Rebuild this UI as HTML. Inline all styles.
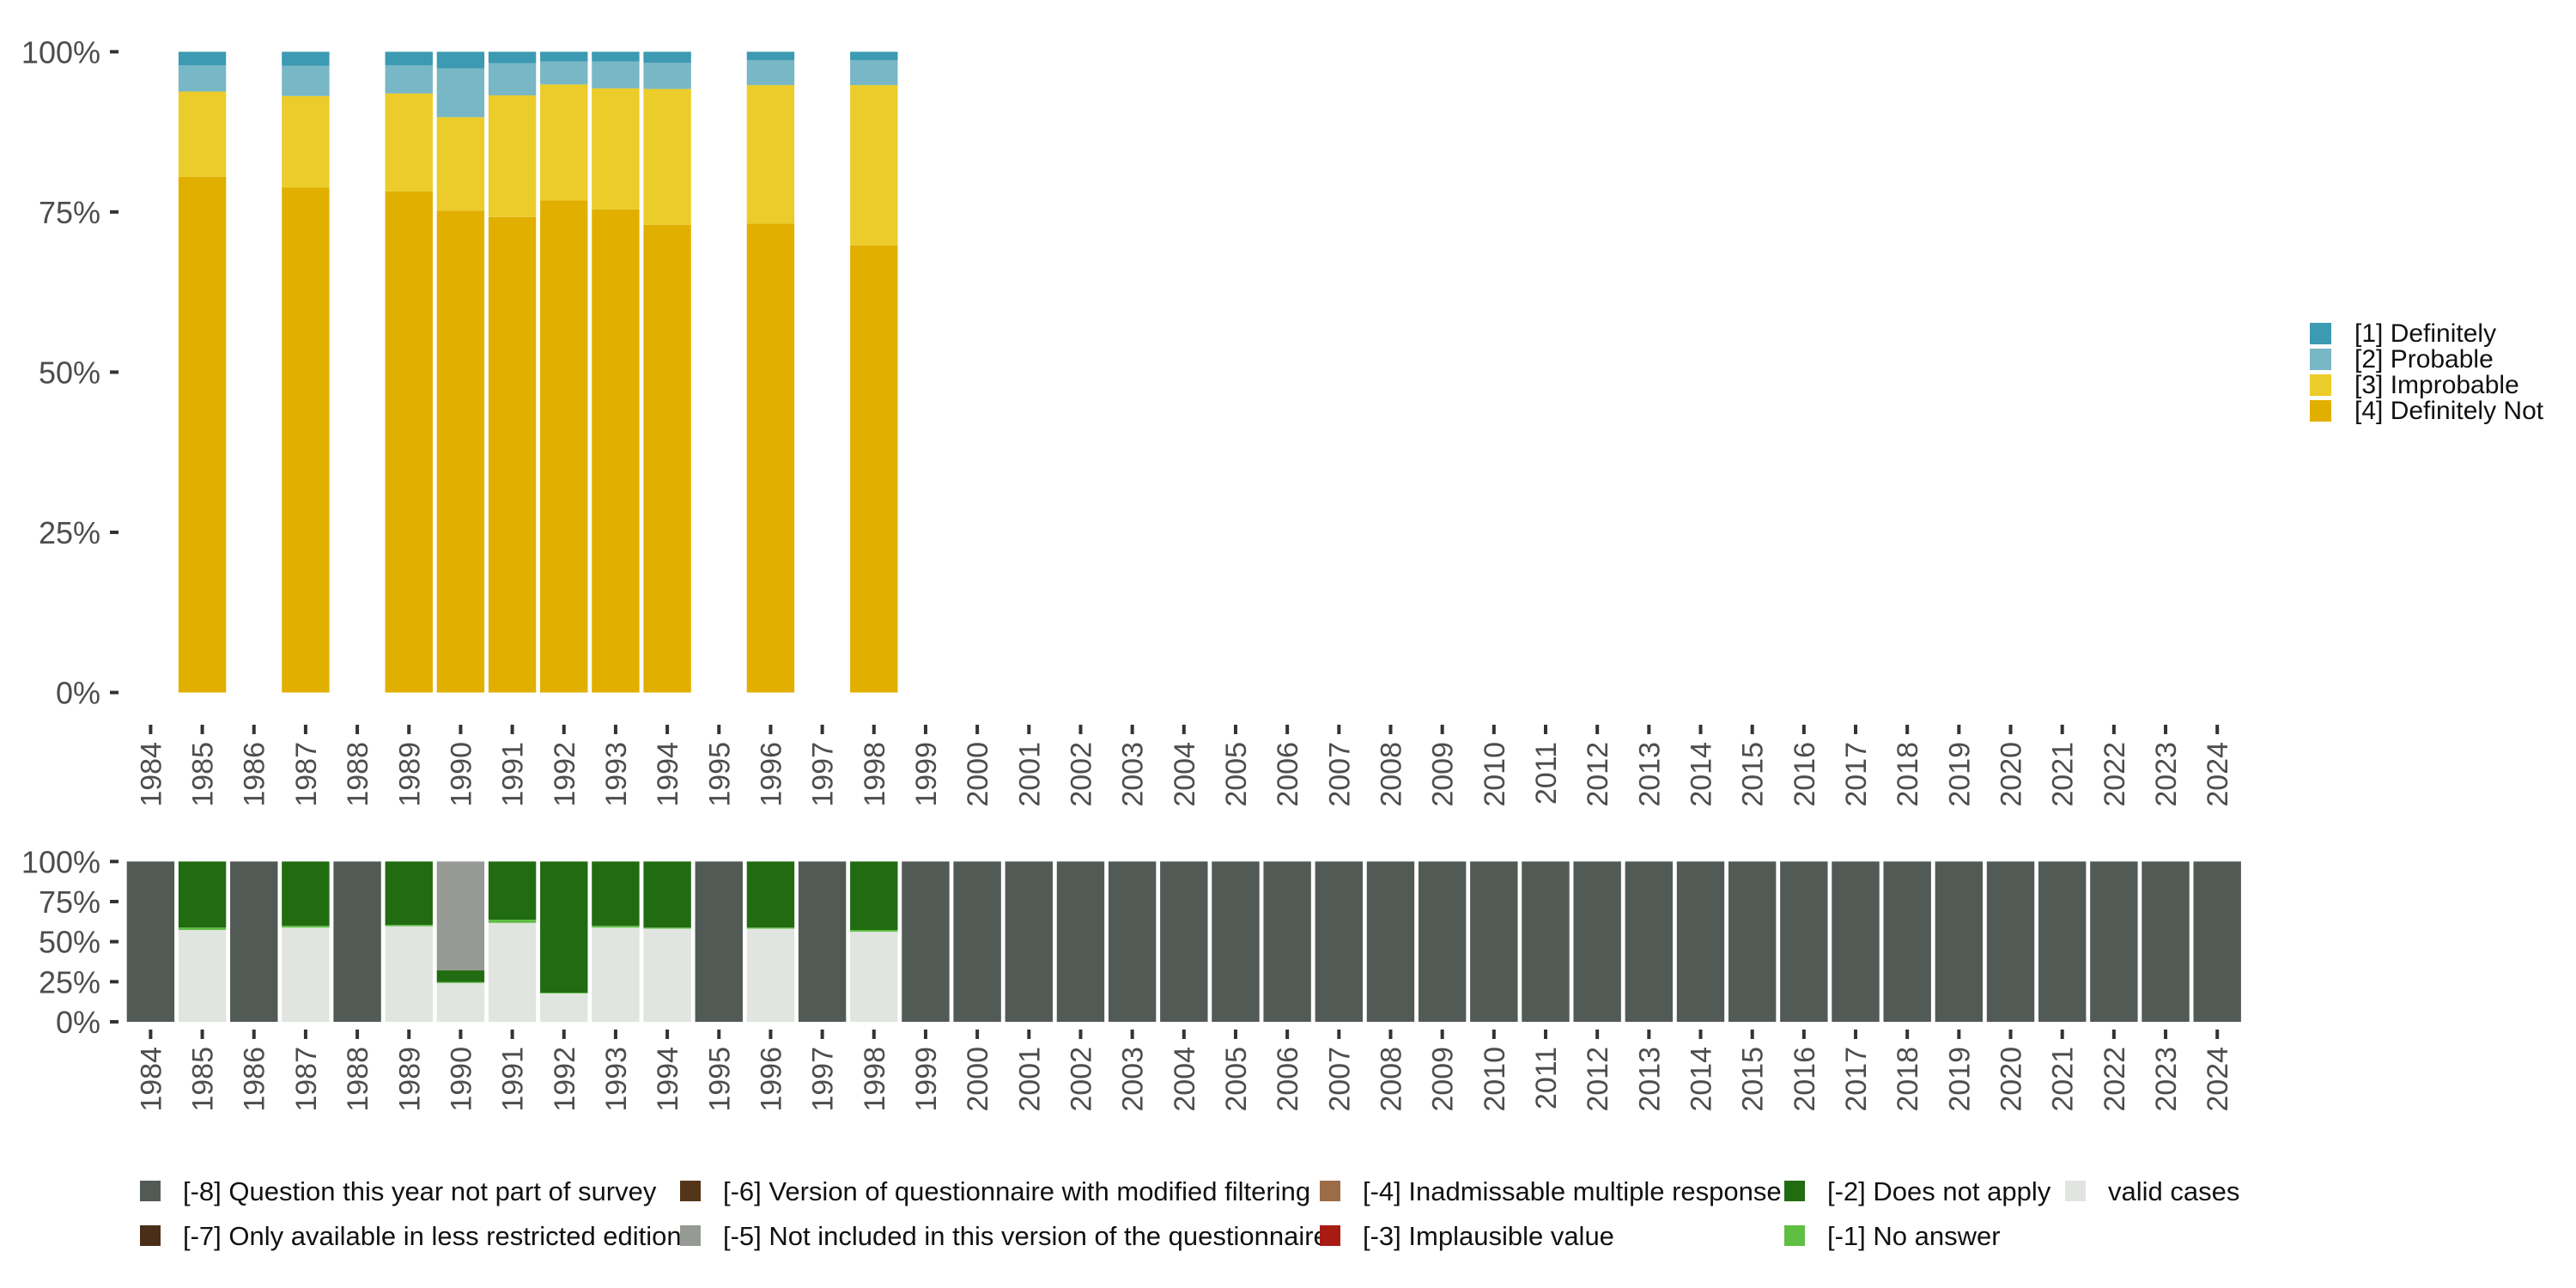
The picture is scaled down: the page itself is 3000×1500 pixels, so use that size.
<!DOCTYPE html>
<html><head><meta charset="utf-8"><style>
html,body{margin:0;padding:0;background:#fff;}
svg{display:block;font-family:"Liberation Sans",sans-serif;}
</style></head><body>
<svg id="chart" width="3000" height="1500" viewBox="0 0 3000 1500" xmlns="http://www.w3.org/2000/svg">
<rect width="3000" height="1500" fill="#fff"/>
</svg>
<script>
const years = [];
for (let y = 1984; y <= 2024; y++) years.push(y);
const yTickLabels = ['0%','25%','50%','75%','100%'];
const yTickValues = [0,25,50,75,100];
// top chart data (percent)
const topYears = [1985,1987,1989,1990,1991,1992,1993,1994,1996,1998];
const defNot = [80.5,78.8,78.2,75.2,74.2,76.8,75.4,73.0,73.2,69.8];
const improbable = [13.3,14.3,15.3,14.6,19.0,18.1,18.9,21.2,21.6,25.0];
const probable = [4.1,4.7,4.4,7.6,5.0,3.6,4.2,4.1,3.9,3.9];
const definitely = [2.1,2.2,2.1,2.6,1.8,1.5,1.5,1.7,1.3,1.3];
const topSeriesNames = ['[1] Definitely','[2] Probable','[3] Improbable','[4] Definitely Not'];
const topColors = ['#3c9ab2','#78b7c5','#ebcc2a','#e1af00'];
// bottom chart data (percent)
const validCases = [57.3,58.8,59.6,24.2,61.7,17.7,58.8,58.1,58.1,56.2];
const noAnswer = [1.5,1.1,0.9,0.6,2.0,0.5,1.1,0.7,0.7,1.1];
const doesNotApply = [41.2,40.1,39.5,7.3,36.3,81.8,40.1,41.2,41.2,42.7];
const notIncluded = [0,0,0,67.9,0,0,0,0,0,0];

const svg = document.getElementById('chart');
const NS = 'http://www.w3.org/2000/svg';
function mk(tag, attrs, parent) {
  const e = document.createElementNS(NS, tag);
  for (const k in attrs) e.setAttribute(k, attrs[k]);
  (parent || svg).appendChild(e);
  return e;
}
const x0 = 175.4, step = 60.17, bw = 55.4;
function xPos(year) { return x0 + (year - 1984) * step; }
const topY = v => 806.5 - v / 100 * 746.2;
const botY = v => 1190 - v / 100 * 186.7;

function axes(yFn, tickTop, name) {
  const g = mk('g', {});
  
  
  yTickValues.forEach((v, i) => {
    const y = yFn(v);
    const t = mk('line', {x1: 128, x2: 138, y1: y, y2: y, stroke: '#333', 'stroke-width': 4}, g);
    
    
    const l = mk('text', {x: 117, y: y + 13, 'text-anchor': 'end', 'font-size': 36, fill: '#4d4d4d'}, g);
    l.textContent = yTickLabels[i];
    
    
  });
  years.forEach(yr => {
    const x = xPos(yr);
    const t = mk('line', {x1: x, x2: x, y1: tickTop, y2: tickTop + 11, stroke: '#333', 'stroke-width': 4}, g);
    
    
    const l = mk('text', {x: 0, y: 0, 'text-anchor': 'end', 'font-size': 34, fill: '#4d4d4d',
      transform: `translate(${x + 12},${tickTop + 20}) rotate(-90)`}, g);
    l.textContent = yr;
    
    
  });
}
axes(topY, 844, 'top');
axes(botY, 1199, 'bottom');

function stack(yFn, xYear, segs, g) {
  let acc = 0;
  segs.forEach(([v, c, n]) => {
    if (v <= 0) return;
    const r = mk('rect', {x: xPos(xYear) - bw / 2, y: yFn(acc + v), width: bw, height: yFn(acc) - yFn(acc + v), fill: c}, g);
    
    
    acc += v;
  });
}
const gt = mk('g', {});


topYears.forEach((yr, i) => {
  stack(topY, yr, [[defNot[i], '#e1af00', 'definitely-not'], [improbable[i], '#ebcc2a', 'improbable'],
    [probable[i], '#78b7c5', 'probable'], [definitely[i], '#3c9ab2', 'definitely']], gt);
});
const gb = mk('g', {});


years.forEach(yr => {
  const i = topYears.indexOf(yr);
  if (i < 0) stack(botY, yr, [[100, '#525a55', 'not-part-of-survey']], gb);
  else stack(botY, yr, [[validCases[i], '#e1e5e0', 'valid'], [noAnswer[i], '#5ebf43', 'no-answer'],
    [doesNotApply[i], '#216b11', 'does-not-apply'], [notIncluded[i], '#969a94', 'not-included']], gb);
});

// top legend
const lg = mk('g', {});


topSeriesNames.forEach((n, i) => {
  const y = 376 + i * 30;
  const s = mk('rect', {x: 2690, y: y, width: 25, height: 25, fill: topColors[i]}, lg);
  
  
  const t = mk('text', {x: 2742, y: y + 22, 'font-size': 30, fill: '#111'}, lg);
  t.textContent = n;
  
  
});

// bottom legend
const botLegend = [
  ['[-8] Question this year not part of survey', '#525a55', 163, 0],
  ['[-7] Only available in less restricted edition', '#4a2e17', 163, 1],
  ['[-6] Version of questionnaire with modified filtering', '#553518', 792, 0],
  ['[-5] Not included in this version of the questionnaire', '#969a94', 792, 1],
  ['[-4] Inadmissable multiple response', '#9c6d47', 1537, 0],
  ['[-3] Implausible value', '#a81b12', 1537, 1],
  ['[-2] Does not apply', '#216b11', 2078, 0],
  ['[-1] No answer', '#5ebf43', 2078, 1],
  ['valid cases', '#e1e5e0', 2405, 0]
];
const bl = mk('g', {});


botLegend.forEach(([n, c, x, r]) => {
  const cy = 1387 + r * 52;
  const t = mk('text', {x: x + 50, y: cy + 11, 'font-size': 31, fill: '#111'}, bl);
  t.textContent = n;
  
  
  const s = mk('rect', {x: x, y: cy - 12, width: 24, height: 24, fill: c}, bl);
  
  
});
</script>
</body></html>
